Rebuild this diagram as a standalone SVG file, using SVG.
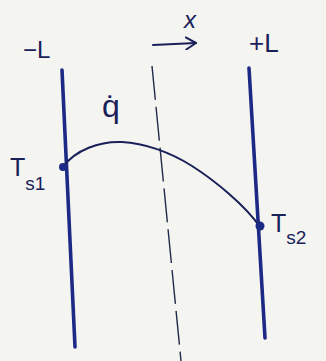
<svg xmlns="http://www.w3.org/2000/svg" width="326" height="361" viewBox="0 0 326 361">
<style>
.bg{fill:#f4f4f1}
.wall{stroke:#1d2a85;stroke-width:3.6;stroke-linecap:round;fill:none}
.ink{stroke:#1a2058;stroke-width:2;fill:none;stroke-linecap:round;stroke-linejoin:round}
.dash{stroke:#222a4a;stroke-width:1.4;fill:none;stroke-dasharray:34 7}
.lbl{font-family:"Liberation Sans","DejaVu Sans",sans-serif;fill:#1a2058}
.dot{fill:#1d2a85}
</style>
<defs>
<marker id="arr" markerWidth="14" markerHeight="14" refX="11" refY="7" orient="auto" markerUnits="userSpaceOnUse">
<path d="M1,1 L11,7 L1,13" fill="none" stroke="#1a2058" stroke-width="2" stroke-linecap="round" stroke-linejoin="round"/>
</marker>
</defs>
<rect class="bg" x="0" y="0" width="326" height="361"/>
<g id="walls">
<path id="wall-left" class="wall" d="M62,70 L75,347"/>
<path id="wall-right" class="wall" d="M249,68 L265,338"/>
</g>
<g id="connectors">
<path id="centerline" class="dash" d="M152,66 L181,361"/>
<path id="axis-arrow" class="ink" d="M153,45 L196,43" marker-end="url(#arr)"/>
<path id="temp-profile" class="ink" d="M63,167 C75,150 100,141 122,142 S170,152 192,166 S245,205 260,227"/>
</g>
<g id="node-ts1">
<circle class="dot" cx="63" cy="167" r="4"/>
<text class="lbl" x="10" y="176" font-size="25">T<tspan font-size="19" dy="14">s1</tspan></text>
</g>
<g id="node-ts2">
<circle class="dot" cx="260" cy="226" r="4.5"/>
<text class="lbl" x="271" y="232" font-size="25">T<tspan font-size="19" dy="12">s2</tspan></text>
</g>
<g id="labels">
<text class="lbl" x="23" y="58" font-size="24">−L</text>
<text class="lbl" x="249" y="52" font-size="26">+L</text>
<text class="lbl" x="184" y="28" font-size="24" font-style="italic">x</text>
<text class="lbl" x="102" y="117" font-size="32">q̇</text>
</g>
</svg>
